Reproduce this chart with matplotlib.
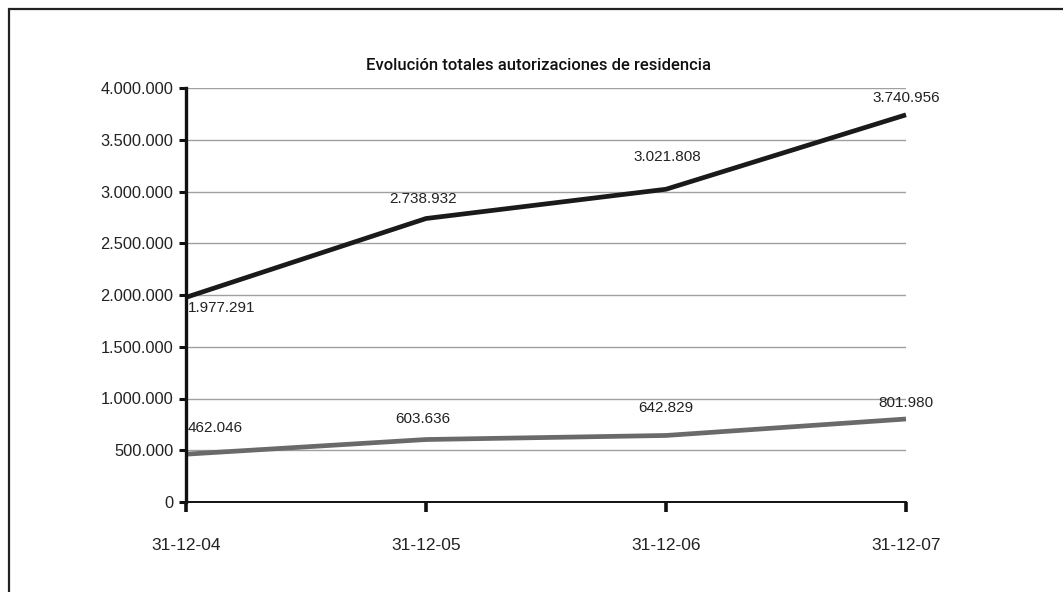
import matplotlib
matplotlib.use("Agg")
import matplotlib.pyplot as plt
from matplotlib.patches import Rectangle
from matplotlib.ticker import FuncFormatter

plt.rcParams['font.family'] = ['Liberation Sans', 'DejaVu Sans']

fechas = ['31-12-04', '31-12-05', '31-12-06', '31-12-07']
total_autorizaciones = [1977291, 2738932, 3021808, 3740956]
serie_inferior = [462046, 603636, 642829, 801980]
y_ticks = [0, 500000, 1000000, 1500000, 2000000, 2500000, 3000000, 3500000, 4000000]

# label offsets (pixels) relative to each point, and horizontal alignment
off_total = [(2, -11, 'left'), (-3, 20, 'center'), (1, 32, 'center'), (0, 17, 'center')]
off_inferior = [(2, 26, 'left'), (-3, 21, 'center'), (0, 27, 'center'), (0, 16, 'center')]


def miles(v, pos=None):
    return f"{int(round(v)):,}".replace(",", ".")


fig = plt.figure(figsize=(10.63, 5.92), dpi=100)

# outer frame, open to the right and bottom
fig.patches.append(Rectangle((8.5 / 1063, -0.1), 1.2, (592 - 8.5) / 592 + 0.1,
                             transform=fig.transFigure, fill=False,
                             edgecolor='#222222', linewidth=1.6))

ax = fig.add_axes([186 / 1063, 90 / 592, 720 / 1063, 414 / 592])
x = list(range(len(fechas)))

ax.set_ylim(0, 4000000)
ax.set_xlim(0, 3)
ax.set_yticks(y_ticks)
ax.yaxis.set_major_formatter(FuncFormatter(miles))
ax.set_xticks(x)
ax.set_xticklabels(fechas)
ax.grid(axis='y', color='#a0a0a0', linewidth=1.0)
ax.set_axisbelow(True)

for s in ['top', 'right']:
    ax.spines[s].set_visible(False)
ax.spines['left'].set_linewidth(2.4)
ax.spines['left'].set_color('#111111')
ax.spines['bottom'].set_linewidth(1.4)
ax.spines['bottom'].set_color('#111111')

ax.tick_params(axis='y', length=5, width=2.2, color='#111111', pad=4,
               labelsize=11.8, labelcolor='#222222')
ax.tick_params(axis='x', length=7, width=2.6, color='#111111', pad=19,
               labelsize=12.5, labelcolor='#222222')

ax.plot(x, serie_inferior, color='#6a6a6a', linewidth=3.4, clip_on=False,
        solid_capstyle='butt')
ax.plot(x, total_autorizaciones, color='#1a1a1a', linewidth=3.4, clip_on=False,
        solid_capstyle='butt')

for xi, v, (dx, dy, ha) in zip(x, total_autorizaciones, off_total):
    ax.annotate(miles(v), (xi, v), xytext=(dx * 0.72, dy * 0.72),
                textcoords='offset points', ha=ha, va='center',
                fontsize=11, color='#222222')
for xi, v, (dx, dy, ha) in zip(x, serie_inferior, off_inferior):
    ax.annotate(miles(v), (xi, v), xytext=(dx * 0.72, dy * 0.72),
                textcoords='offset points', ha=ha, va='center',
                fontsize=11, color='#222222')

ax.set_title('Evolución totales autorizaciones de residencia', fontsize=12,
             family=['Roboto', 'Liberation Sans'], fontweight='medium',
             color='#111111', pad=13, x=0.49)

fig.savefig('out.png', dpi=100)
